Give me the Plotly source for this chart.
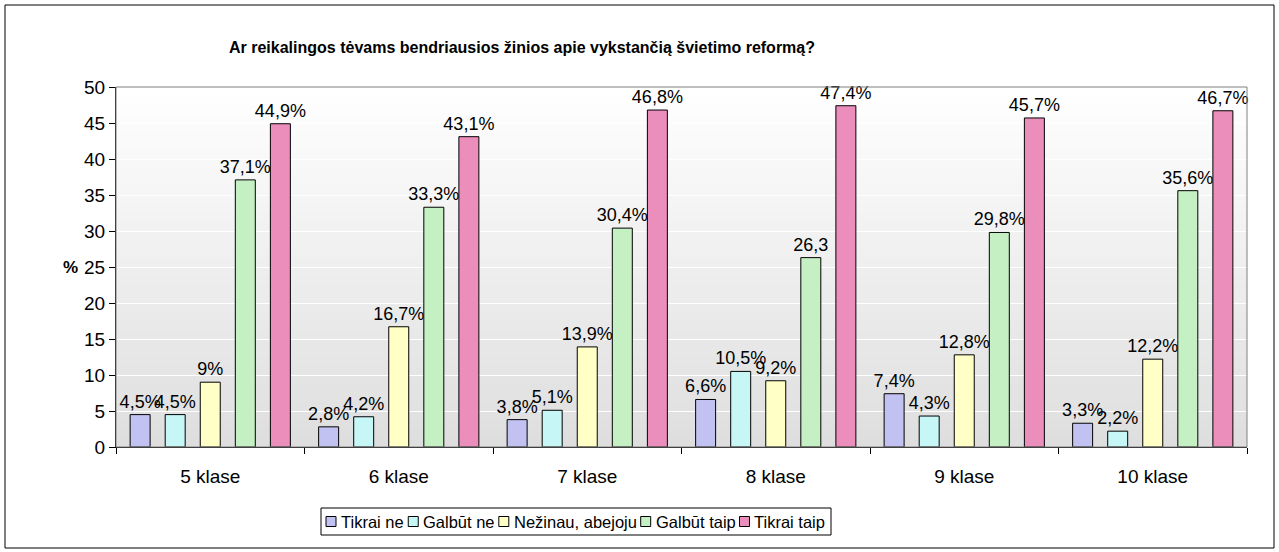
import plotly.graph_objects as go

categories = ["5 klase", "6 klase", "7 klase", "8 klase", "9 klase", "10 klase"]
series_names = ["Tikrai ne", "Galbūt ne", "Nežinau, abejoju", "Galbūt taip", "Tikrai taip"]

tikrai_ne = [4.5, 2.8, 3.8, 6.6, 7.4, 3.3]
galbut_ne = [4.5, 4.2, 5.1, 10.5, 4.3, 2.2]
nezinau = [9, 16.7, 13.9, 9.2, 12.8, 12.2]
galbut_taip = [37.1, 33.3, 30.4, 26.3, 29.8, 35.6]
tikrai_taip = [44.9, 43.1, 46.8, 47.4, 45.7, 46.7]

labels_tikrai_ne = ["4,5%", "2,8%", "3,8%", "6,6%", "7,4%", "3,3%"]
labels_galbut_ne = ["4,5%", "4,2%", "5,1%", "10,5%", "4,3%", "2,2%"]
labels_nezinau = ["9%", "16,7%", "13,9%", "9,2%", "12,8%", "12,2%"]
labels_galbut_taip = ["37,1%", "33,3%", "30,4%", "26,3", "29,8%", "35,6%"]
labels_tikrai_taip = ["44,9%", "43,1%", "46,8%", "47,4%", "45,7%", "46,7%"]

y_ticks = [0, 5, 10, 15, 20, 25, 30, 35, 40, 45, 50]

values = [tikrai_ne, galbut_ne, nezinau, galbut_taip, tikrai_taip]
labels = [labels_tikrai_ne, labels_galbut_ne, labels_nezinau, labels_galbut_taip, labels_tikrai_taip]
colors = ["#C2C2F2", "#C6F6F6", "#FFFFC6", "#C4F0C4", "#EC8EBC"]

FONT = "Arial, Liberation Sans, sans-serif"

# plot-area geometry in pixels (figure 1279 x 552)
L, R, T, B = 116, 1247, 87, 447
PW, PH = R - L, B - T


def px(x):
    return (x - L) / PW


def py(y):
    return (B - y) / PH


fig = go.Figure()
for name, vals, labs, col in zip(series_names, values, labels, colors):
    fig.add_trace(go.Bar(
        x=categories, y=vals, name=name, text=labs,
        textposition="outside", cliponaxis=False, constraintext="none",
        textfont=dict(family=FONT, size=18, color="black"),
        marker=dict(color=col, line=dict(color="black", width=1)),
        showlegend=False,
    ))

shapes = []
annotations = []

# background gradient strips in the plot area
n = 40
for i in range(n):
    t = i / n
    g = min(255, int(round(222 + (255 - 222) * (t + 0.5 / n))))
    shapes.append(dict(type="rect", xref="x domain", yref="y domain",
                       x0=0, x1=1, y0=t, y1=(i + 1) / n,
                       fillcolor=f"rgb({g},{g},{g})", line=dict(width=0), layer="below"))
# plot area border (gray)
shapes.append(dict(type="rect", xref="x domain", yref="y domain", x0=0, x1=1, y0=0, y1=1,
                   line=dict(color="#808080", width=1), fillcolor="rgba(0,0,0,0)", layer="above"))
# outer chart border
shapes.append(dict(type="rect", xref="paper", yref="paper",
                   x0=px(5), x1=px(1274), y0=py(548), y1=py(5),
                   line=dict(color="black", width=1), fillcolor="rgba(0,0,0,0)"))

# custom legend (Excel style: small square + text)
ARIAL_W = {"T": 611, "i": 222, "k": 500, "r": 333, "a": 556, "n": 556, "e": 556, "G": 778,
           "l": 222, "b": 556, "ū": 556, "t": 278, "N": 722, "ž": 500, "u": 556, ",": 278,
           " ": 278, "j": 222, "o": 556, "p": 556}
LEG_FS = 16.5


def text_w(s):
    return sum(ARIAL_W.get(c, 556) for c in s) / 1000 * LEG_FS


leg_left, leg_top, leg_bot = 321, 508, 535
leg_cy = (leg_top + leg_bot) / 2
cur = leg_left + 5
for name, col in zip(series_names, colors):
    shapes.append(dict(type="rect", xref="paper", yref="paper",
                       x0=px(cur), x1=px(cur + 10), y0=py(leg_cy + 5), y1=py(leg_cy - 5),
                       fillcolor=col, line=dict(color="black", width=1)))
    annotations.append(dict(text=name, xref="paper", yref="paper", x=px(cur + 13), y=py(leg_cy),
                            xanchor="left", yanchor="middle", showarrow=False,
                            font=dict(family=FONT, size=LEG_FS, color="black")))
    cur += 10 + 4 + text_w(name) + 5
leg_right = cur + 1
shapes.append(dict(type="rect", xref="paper", yref="paper",
                   x0=px(leg_left), x1=px(leg_right), y0=py(leg_bot), y1=py(leg_top),
                   fillcolor="white", line=dict(color="black", width=1), layer="below"))

annotations.append(dict(text="<b>%</b>", xref="paper", yref="paper", x=px(80), y=0.5,
                        xanchor="right", showarrow=False,
                        font=dict(family=FONT, size=17, color="black")))

fig.update_layout(
    width=1279, height=552,
    margin=dict(l=L, r=1279 - R, t=T, b=552 - B),
    paper_bgcolor="white", plot_bgcolor="white",
    barmode="group", bargap=0.07, bargroupgap=0.43,
    font=dict(family=FONT, size=16, color="black"),
    title=dict(text="<b>Ar reikalingos tėvams bendriausios žinios apie vykstančią švietimo reformą?</b>",
               font=dict(family=FONT, size=16, color="black"),
               xref="paper", x=px(522), xanchor="center",
               yref="container", y=1 - 47 / 552, yanchor="middle"),
    showlegend=False,
    shapes=shapes,
    annotations=annotations,
)
fig.update_yaxes(range=[0, 50], tickvals=y_ticks, ticks="outside", ticklen=6, tickcolor="black",
                 showline=True, linecolor="black", linewidth=1,
                 showgrid=True, gridcolor="white", gridwidth=1, zeroline=False,
                 tickfont=dict(family=FONT, size=19, color="black"))
fig.update_xaxes(tickson="boundaries", ticks="outside", ticklen=6, tickcolor="black",
                 showline=True, linecolor="black", linewidth=1, showgrid=False,
                 ticklabelstandoff=12,
                 tickfont=dict(family=FONT, size=19, color="black"))

fig.write_html("out.html", config={"displayModeBar": False},
               post_script="document.body.style.margin='0';")
